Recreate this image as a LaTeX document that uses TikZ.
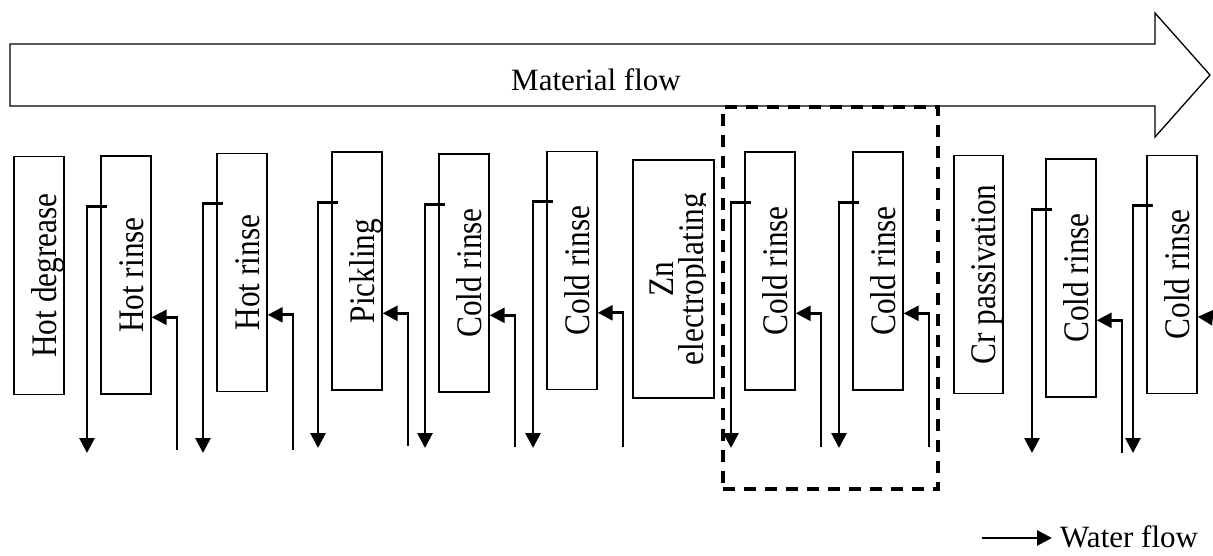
\documentclass[tikz,border=0pt]{standalone}
\usepackage{fontspec}
\setmainfont{Liberation Serif}
\usetikzlibrary{arrows.meta,calc}
\newcommand{\labtext}[1]{\scalebox{0.87}[1]{#1}}
\begin{document}
\begin{tikzpicture}[x=1pt,y=-1pt,
  tank/.style={draw, line width=1.4pt, inner sep=0pt, minimum width=50pt, minimum height=238pt},
  lab/.style={rotate=90, anchor=base, inner sep=0pt, font=\fontsize{36}{40}\selectfont},
  water/.style={line width=2.8pt, -{Triangle[length=15pt,width=15pt]}},
  flowbox/.style={draw, line width=1.3pt, line join=miter},
  zone/.style={draw, line width=3.2pt, dash pattern=on 12pt off 9pt, inner sep=0pt}
]
\useasboundingbox (0,0) rectangle (1213,555);

% material flow arrow
\draw[flowbox] (10,44) -- (1155,44) -- (1155,13) -- (1210,75) -- (1155,137) -- (1155,106) -- (10,106) -- cycle;
\node[anchor=base, inner sep=0pt, font=\fontsize{31}{36}\selectfont] (mf) at (596,90) {Material flow};

% tanks
\node[tank] (t1) at (39,275.5) {};
\node[tank] (t2) at (126,275) {};
\node[tank] (t3) at (242,272.5) {};
\node[tank] (t4) at (357,271) {};
\node[tank] (t5) at (464,273) {};
\node[tank] (t6) at (572,270.5) {};
\node[tank, minimum width=81pt] (t7) at (673.5,279) {};
\node[tank] (t8) at (770,271) {};
\node[tank] (t9) at (878,271) {};
\node[tank, minimum width=49pt] (t10) at (978.5,274.5) {};
\node[tank] (t11) at (1071,278) {};
\node[tank] (t12) at (1172,274.5) {};

% labels
\node[lab] (l1) at ($(t1.center)+(17,0)$) {\labtext{Hot degrease}};
\node[lab] (l2) at ($(t2.center)+(17,0)$) {\labtext{Hot rinse}};
\node[lab] (l3) at ($(t3.center)+(17,0)$) {\labtext{Hot rinse}};
\node[lab] (l4) at ($(t4.center)+(17,0)$) {\labtext{Pickling}};
\node[lab] (l5) at ($(t5.center)+(17,0)$) {\labtext{Cold rinse}};
\node[lab] (l6) at ($(t6.center)+(17,0)$) {\labtext{Cold rinse}};
\begin{scope}
\clip (620,140) rectangle (705,420);
\node[rotate=90, align=center, inner sep=0pt, font=\fontsize{36}{30}\selectfont] (l7) at (681,279) {\labtext{Zn}\\\labtext{electroplating}};
\end{scope}
\node[lab] (l8) at ($(t8.center)+(17,0)$) {\labtext{Cold rinse}};
\node[lab] (l9) at ($(t9.center)+(17,0)$) {\labtext{Cold rinse}};
\node[lab] (l10) at ($(t10.center)+(17,0)$) {\labtext{Cr passivation}};
\node[lab] (l11) at ($(t11.center)+(17,0)$) {\labtext{Cold rinse}};
\node[lab] (l12) at ($(t12.center)+(17,0)$) {\labtext{Cold rinse}};

% free ends
\coordinate (o2) at (87,453);   \coordinate (i2) at (177,450);
\coordinate (o3) at (203,453);  \coordinate (i3) at (293,450);
\coordinate (o4) at (318,448);  \coordinate (i4) at (408,446);
\coordinate (o5) at (425,448);  \coordinate (i5) at (515,447);
\coordinate (o6) at (533,448);  \coordinate (i6) at (623,447);
\coordinate (o8) at (731,448);  \coordinate (i8) at (821,447);
\coordinate (o9) at (839,448);  \coordinate (i9) at (929,447);
\coordinate (o11) at (1032,453); \coordinate (i11) at (1122,453);
\coordinate (o12) at (1133,453); \coordinate (i12) at (1216,318);

% water flows
\foreach \k in {2,3,4,5,6,8,9,11}{
  \draw[water] ($(t\k.north west)+(6.5,51)$) -| (o\k);
  \draw[water] (i\k) |- ($(t\k.north east)+(0,162)$);
}
\draw[water] ($(t12.north west)+(6.5,51)$) -| (o12);
\draw[water] (i12) -- ($(t12.north east)+(0,162)$);

% dashed group
\node[zone, minimum width=215pt, minimum height=382pt] (grp) at (830.5,298) {};

% legend
\node[anchor=base west, inner sep=0pt, font=\fontsize{31}{36}\selectfont] (wf) at (1060,547) {Water flow};
\coordinate (wa) at (982,538);
\coordinate (wb) at (1052,538);
\draw[water] (wa) -- (wb);
\end{tikzpicture}
\end{document}
